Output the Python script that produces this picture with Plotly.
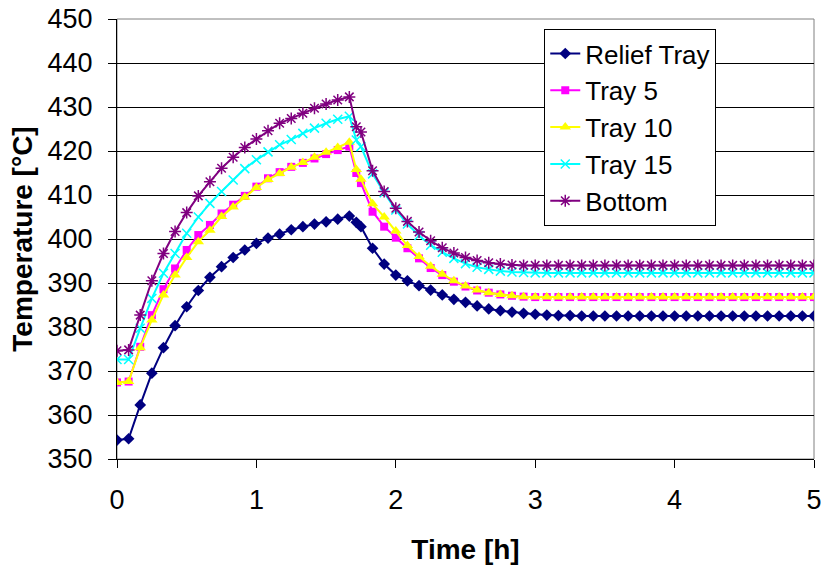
import plotly.graph_objects as go

# time in minutes
minutes = [0, 5, 10, 15, 20, 25, 30, 35, 40, 45, 50, 55, 60, 65, 70, 75, 80, 85, 90, 95, 100,
           103, 105,
           110, 115, 120, 125, 130, 135, 140, 145, 150, 155, 160, 165, 170, 175,
           180, 185, 190, 195, 200, 205, 210, 215, 220, 225, 230, 235, 240, 245, 250, 255,
           260, 265, 270, 275, 280, 285, 290, 295, 300]
time_h = [m / 60 for m in minutes]

relief_tray = [354.3, 354.6, 362.3, 369.5, 375.3, 380.3, 384.6, 388.3, 391.3, 393.7, 395.8,
               397.5, 399.0, 400.2, 401.1, 402.1, 402.8, 403.4, 403.9, 404.5, 405.2,
               403.8, 402.8,
               397.9, 394.3, 391.8, 390.5, 389.4, 388.4, 387.3, 386.3, 385.6, 384.8, 384.1,
               383.7, 383.4, 383.1,
               382.9, 382.7, 382.6, 382.6, 382.5, 382.5, 382.5, 382.5, 382.5, 382.5, 382.5,
               382.5, 382.5, 382.5, 382.5, 382.5, 382.5, 382.5, 382.5, 382.5, 382.5, 382.5,
               382.5, 382.5, 382.5]

tray_5 = [367.4, 367.6, 375.5, 382.7, 388.6, 393.3, 397.5, 400.9, 403.2, 405.8, 407.8,
          409.8, 411.9, 413.8, 415.2, 416.4, 417.3, 418.3, 419.3, 420.2, 421.0,
          415.0, 412.7,
          406.2, 402.8, 400.3, 397.9, 395.6, 393.4, 391.8, 390.3, 389.2, 388.3, 387.8,
          387.4, 387.1, 386.9,
          386.8, 386.8, 386.8, 386.8, 386.8, 386.8, 386.8, 386.8, 386.8, 386.8, 386.8,
          386.8, 386.8, 386.8, 386.8, 386.8, 386.8, 386.8, 386.8, 386.8, 386.8, 386.8,
          386.8, 386.8, 386.8]

tray_10 = [367.4, 367.6, 375.3, 381.6, 387.3, 391.8, 395.8, 399.4, 402.0, 405.1, 407.3,
           409.5, 411.7, 413.5, 414.9, 416.3, 417.4, 418.6, 419.7, 420.8, 422.0,
           415.8, 413.6,
           408.0, 405.0, 401.8, 398.5, 396.0, 393.8, 392.0, 390.5, 389.3, 388.4, 387.8,
           387.4, 387.1, 386.9,
           386.8, 386.8, 386.8, 386.8, 386.8, 386.8, 386.8, 386.8, 386.8, 386.8, 386.8,
           386.8, 386.8, 386.8, 386.8, 386.8, 386.8, 386.8, 386.8, 386.8, 386.8, 386.8,
           386.8, 386.8, 386.8]

tray_15 = [372.6, 372.6, 379.7, 386.5, 392.2, 396.7, 401.3, 405.0, 408.1, 410.8, 413.4,
           416.0, 418.0, 419.8, 421.4, 422.6, 424.0, 425.2, 426.3, 427.2, 427.9,
           422.5, 421.0,
           414.8, 410.5, 406.6, 403.4, 400.8, 398.6, 397.0, 395.6, 394.4, 393.6, 393.1,
           392.7, 392.5, 392.4,
           392.3, 392.3, 392.3, 392.3, 392.3, 392.3, 392.3, 392.3, 392.3, 392.3, 392.3,
           392.3, 392.3, 392.3, 392.3, 392.3, 392.3, 392.3, 392.3, 392.3, 392.3, 392.3,
           392.3, 392.3, 392.3]

bottom = [374.6, 374.8, 382.7, 390.5, 396.7, 401.7, 406.0, 409.8, 413.0, 416.1, 418.6,
          420.8, 422.7, 424.6, 426.3, 427.4, 428.6, 429.7, 430.7, 431.6, 432.3,
          425.5, 424.3,
          415.5, 410.8, 407.0, 404.0, 401.6, 399.6, 398.0, 396.8, 395.8, 395.1, 394.6,
          394.3, 394.1, 394.0,
          394.0, 394.0, 394.0, 394.0, 394.0, 394.0, 394.0, 394.0, 394.0, 394.0, 394.0,
          394.0, 394.0, 394.0, 394.0, 394.0, 394.0, 394.0, 394.0, 394.0, 394.0, 394.0,
          394.0, 394.0, 394.0]

series_names = ["Relief Tray", "Tray 5", "Tray 10", "Tray 15", "Bottom"]
x_ticks = [0, 1, 2, 3, 4, 5]
y_ticks = [350, 360, 370, 380, 390, 400, 410, 420, 430, 440, 450]

styles = [
    dict(color="#000080", symbol="diamond", size=9, lw=0),
    dict(color="#FF00FF", symbol="square", size=8, lw=0),
    dict(color="#FFFF00", symbol="triangle-up", size=10, lw=0),
    dict(color="#00FFFF", symbol="x-thin-open", size=9, lw=1.5),
    dict(color="#800080", symbol="asterisk-open", size=10, lw=1.5),
]

FONT = "Liberation Sans, Arial, sans-serif"

fig = go.Figure()
for name, vals, st in zip(series_names, [relief_tray, tray_5, tray_10, tray_15, bottom], styles):
    fig.add_trace(go.Scatter(
        x=time_h, y=vals, name=name, mode="lines+markers",
        line=dict(color=st["color"], width=2),
        marker=dict(symbol=st["symbol"], size=st["size"], color=st["color"],
                    line=dict(color=st["color"], width=st["lw"])),
    ))

fig.update_layout(
    width=824, height=565,
    margin=dict(l=117, r=10, t=19, b=106),
    paper_bgcolor="white", plot_bgcolor="white",
    font=dict(family=FONT, size=26, color="black"),
    showlegend=True,
    legend=dict(x=0.613, y=0.977, xanchor="left", yanchor="top",
                bgcolor="white", bordercolor="black", borderwidth=1,
                font=dict(family=FONT, size=26), tracegroupgap=0,
                itemwidth=30),
    xaxis=dict(range=[0, 5], tickvals=x_ticks, ticks="outside", ticklen=8,
               tickcolor="black", showline=True, linecolor="black", linewidth=1,
               showgrid=False, zeroline=False, automargin=False,
               ticklabeloverflow="allow",
               tickfont=dict(family=FONT, size=27), ticklabelstandoff=9,
               title=dict(text="<b>Time [h]</b>", font=dict(family=FONT, size=28), standoff=28)),
    yaxis=dict(range=[350, 450], tickvals=y_ticks, ticks="outside", ticklen=8,
               tickcolor="black", showline=True, linecolor="black", linewidth=1,
               showgrid=True, gridcolor="black", gridwidth=1, zeroline=False,
               automargin=False, ticklabeloverflow="allow",
               tickfont=dict(family=FONT, size=27), ticklabelstandoff=10,
               title=dict(text="<b>Temperature [°C]</b>", font=dict(family=FONT, size=28), standoff=6)),
)

# plot area border (gray, right and top)
fig.add_shape(type="rect", xref="paper", yref="paper", x0=0, y0=0, x1=1, y1=1,
              line=dict(color="#808080", width=1), layer="below")

fig.write_html("out.html", config={"displayModeBar": False},
               post_script="document.body.style.margin='0';document.body.style.overflow='hidden';")
